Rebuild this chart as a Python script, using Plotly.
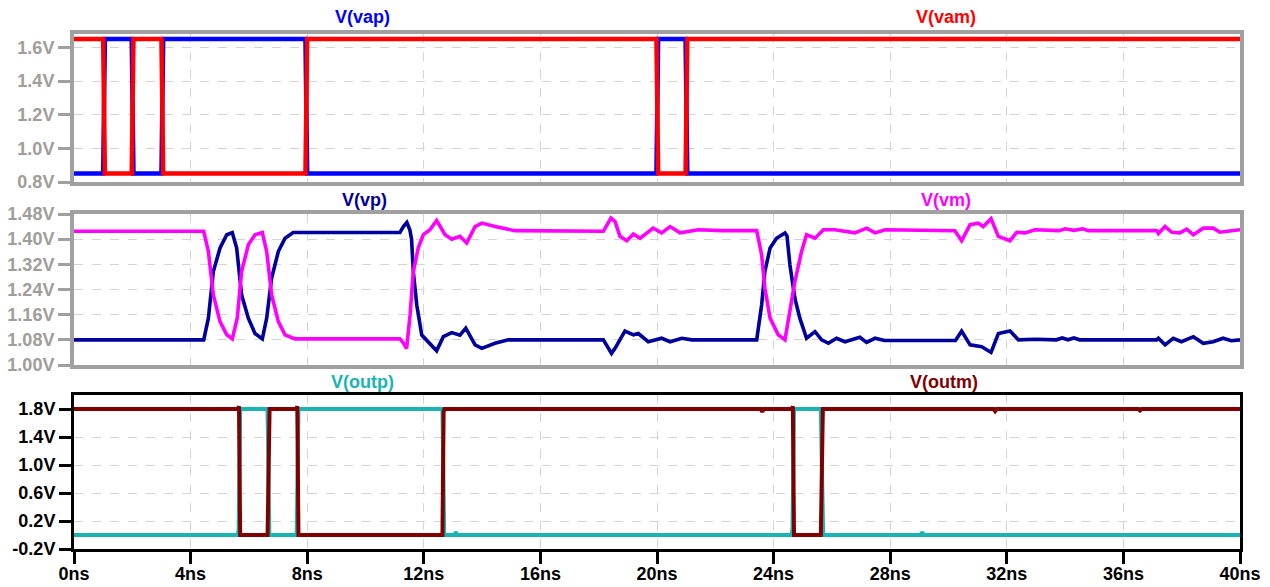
import plotly.graph_objects as go

# ---------------- data ----------------
# top panel: input drives
vap_t = [0, 1.00, 1.06, 1.98, 2.04, 3.00, 3.06, 7.94, 8.00, 19.98, 20.04, 20.98, 21.04, 40]
vap_v = [0.85, 0.85, 1.65, 1.65, 0.85, 0.85, 1.65, 1.65, 0.85, 0.85, 1.65, 1.65, 0.85, 0.85]
vam_t = [0, 1.00, 1.06, 1.98, 2.04, 3.00, 3.06, 7.94, 8.00, 19.98, 20.04, 20.98, 21.04, 40]
vam_v = [1.65, 1.65, 0.85, 0.85, 1.65, 1.65, 0.85, 0.85, 1.65, 1.65, 0.85, 0.85, 1.65, 1.65]

# middle panel: internal nodes
vp_t = [0, 4.45, 4.61, 4.78, 5.01, 5.24, 5.43, 5.58, 5.75, 5.98, 6.21, 6.46, 6.61, 6.78, 7.01,
        7.24, 7.52, 11.18, 11.30, 11.42, 11.52, 11.58, 11.64, 11.76, 11.93, 12.16, 12.44, 12.67,
        12.96, 13.24, 13.44, 13.76, 13.99, 14.44, 14.90, 18.16, 18.44, 18.56, 18.90, 19.19, 19.36,
        19.70, 20.16, 20.45, 20.85, 21.20, 23.42, 23.59, 23.70, 23.88, 24.10, 24.39, 24.46, 24.56,
        24.73, 24.90, 25.13, 25.42, 25.65, 25.88, 26.16, 26.45, 26.96, 27.19, 27.48, 27.80, 30.24,
        30.45, 30.74, 31.14, 31.46, 31.71, 32.11, 32.40, 32.97, 33.70, 33.90, 34.10, 34.30, 34.50,
        37.14, 37.20, 37.43, 37.71, 37.99, 38.40, 38.74, 39.08, 39.42, 39.70, 40]
vp_v = [1.080, 1.080, 1.149, 1.297, 1.372, 1.414, 1.421, 1.372, 1.223, 1.149, 1.100, 1.083, 1.149,
        1.276, 1.361, 1.403, 1.421, 1.421, 1.440, 1.453, 1.430, 1.400, 1.297, 1.190, 1.095, 1.074,
        1.045, 1.090, 1.103, 1.095, 1.117, 1.064, 1.053, 1.069, 1.080, 1.080, 1.037, 1.053, 1.108,
        1.096, 1.100, 1.074, 1.085, 1.074, 1.085, 1.080, 1.080, 1.191, 1.297, 1.372, 1.403, 1.420,
        1.410, 1.318, 1.212, 1.149, 1.085, 1.106, 1.080, 1.069, 1.085, 1.074, 1.088, 1.072, 1.085,
        1.078, 1.078, 1.108, 1.064, 1.058, 1.040, 1.100, 1.108, 1.080, 1.082, 1.080, 1.086, 1.080,
        1.086, 1.080, 1.080, 1.085, 1.064, 1.085, 1.074, 1.090, 1.069, 1.074, 1.085, 1.077, 1.080]

vm_t = [0, 4.45, 4.61, 4.78, 5.01, 5.24, 5.43, 5.60, 5.75, 5.98, 6.21, 6.46, 6.61, 6.78, 7.01,
        7.24, 7.58, 11.18, 11.30, 11.41, 11.53, 11.64, 11.81, 11.98, 12.21, 12.44, 12.73, 12.96,
        13.24, 13.47, 13.76, 13.99, 14.44, 15.13, 18.16, 18.42, 18.56, 18.73, 18.96, 19.19, 19.42,
        19.87, 20.16, 20.45, 20.79, 21.42, 22.22, 23.42, 23.59, 23.70, 23.88, 24.16, 24.39, 24.56,
        24.73, 24.96, 25.13, 25.42, 25.71, 26.10, 26.79, 27.19, 27.48, 27.82, 30.22, 30.45, 30.74,
        31.02, 31.19, 31.46, 31.71, 32.11, 32.34, 32.62, 32.97, 33.80, 34.00, 34.30, 34.60, 34.80,
        37.14, 37.20, 37.43, 37.66, 37.94, 38.17, 38.40, 38.74, 39.08, 39.31, 39.70, 40]
vm_v = [1.425, 1.425, 1.361, 1.223, 1.138, 1.096, 1.083, 1.149, 1.297, 1.382, 1.414, 1.421, 1.361,
        1.223, 1.138, 1.096, 1.083, 1.083, 1.070, 1.052, 1.160, 1.297, 1.372, 1.414, 1.430, 1.459,
        1.414, 1.400, 1.409, 1.388, 1.440, 1.451, 1.440, 1.427, 1.425, 1.467, 1.456, 1.409, 1.395,
        1.416, 1.403, 1.435, 1.420, 1.440, 1.420, 1.430, 1.427, 1.427, 1.350, 1.244, 1.149, 1.096,
        1.080, 1.170, 1.265, 1.361, 1.414, 1.403, 1.430, 1.430, 1.420, 1.435, 1.420, 1.430, 1.427,
        1.395, 1.446, 1.451, 1.440, 1.465, 1.409, 1.395, 1.422, 1.420, 1.430, 1.427, 1.433, 1.428,
        1.433, 1.427, 1.427, 1.418, 1.440, 1.422, 1.420, 1.432, 1.414, 1.435, 1.435, 1.422, 1.425,
        1.430]

# bottom panel: outputs
outp_t = [0, 5.62, 5.65, 5.70, 6.64, 6.70, 7.64, 7.70, 12.64, 12.70, 13.05, 13.10, 13.15,
          24.62, 24.65, 24.70, 25.62, 25.70, 29.05, 29.10, 29.15, 40]
outp_v = [0.0, 0.0, 0.08, 1.80, 1.80, 0.0, 0.0, 1.80, 1.80, 0.0, 0.0, 0.04, 0.0,
          0.0, 0.10, 1.80, 1.80, 0.0, 0.0, 0.04, 0.0, 0.0]
outm_t = [0, 5.63, 5.66, 5.70, 6.64, 6.68, 6.71, 7.63, 7.66, 7.70, 12.64, 12.68, 12.71,
          23.56, 23.61, 23.66, 24.63, 24.66, 24.70, 25.62, 25.66, 25.69, 31.55, 31.60, 31.65,
          36.52, 36.57, 36.62, 40]
outm_v = [1.80, 1.80, 1.84, 0.0, 0.0, 1.70, 1.80, 1.80, 1.84, 0.0, 0.0, 1.76, 1.80,
          1.80, 1.76, 1.80, 1.80, 1.84, 0.0, 0.0, 1.76, 1.80, 1.80, 1.77, 1.80,
          1.80, 1.78, 1.80, 1.80]

# ticks
x_ticks = [0, 4, 8, 12, 16, 20, 24, 28, 32, 36, 40]
x_labels = ["0ns", "4ns", "8ns", "12ns", "16ns", "20ns", "24ns", "28ns", "32ns", "36ns", "40ns"]
y1_ticks = [0.8, 1.0, 1.2, 1.4, 1.6]
y1_labels = ["0.8V", "1.0V", "1.2V", "1.4V", "1.6V"]
y2_ticks = [1.00, 1.08, 1.16, 1.24, 1.32, 1.40, 1.48]
y2_labels = ["1.00V", "1.08V", "1.16V", "1.24V", "1.32V", "1.40V", "1.48V"]
y3_ticks = [-0.2, 0.2, 0.6, 1.0, 1.4, 1.8]
y3_labels = ["-0.2V", "0.2V", "0.6V", "1.0V", "1.4V", "1.8V"]

# ---------------- figure ----------------
# the page body adds an 8px offset, so the figure is 8px smaller and margins compensate
OFF = 8
W, H = 1270 - OFF, 587 - OFF
ML, MR, MT, MB = 74 - OFF, 30, 34 - OFF, 38
PX0, PX1 = 74, 1240      # absolute pixel extents of the plot area
PY0, PY1 = 34, 549


def py(y):  # absolute pixel y -> paper y
    return (PY1 - y) / (PY1 - PY0)


def px(x):
    return (x - PX0) / (PX1 - PX0)


FONT = "Liberation Sans, Arial, sans-serif"
GRAY = "#a0a0a0"
TICKGRAY = "#a19d98"
GRID = "#d4d4d4"

fig = go.Figure()
fig.add_trace(go.Scatter(x=vap_t, y=vap_v, mode="lines", line=dict(color="#0000ff", width=4.5),
                         xaxis="x", yaxis="y", name="V(vap)"))
fig.add_trace(go.Scatter(x=vam_t, y=vam_v, mode="lines", line=dict(color="#ff0000", width=4.5),
                         xaxis="x", yaxis="y", name="V(vam)"))
fig.add_trace(go.Scatter(x=vp_t, y=vp_v, mode="lines", line=dict(color="#00009c", width=3.6),
                         xaxis="x2", yaxis="y2", name="V(vp)"))
fig.add_trace(go.Scatter(x=vm_t, y=vm_v, mode="lines", line=dict(color="#ff00ff", width=3.6),
                         xaxis="x2", yaxis="y2", name="V(vm)"))
fig.add_trace(go.Scatter(x=outp_t, y=outp_v, mode="lines", line=dict(color="#1ab4b4", width=4),
                         xaxis="x3", yaxis="y3", name="V(outp)"))
fig.add_trace(go.Scatter(x=outm_t, y=outm_v, mode="lines", line=dict(color="#800000", width=4),
                         xaxis="x3", yaxis="y3", name="V(outm)"))

xcommon = dict(range=[0, 40], tickvals=x_ticks, showgrid=True, gridcolor=GRID, griddash="dash",
               gridwidth=1, zeroline=False, showline=True, mirror=True, automargin=False)
ycommon = dict(showgrid=True, gridcolor=GRID, griddash="dash", gridwidth=1, zeroline=False,
               showline=True, mirror=True, ticks="outside", ticklen=12, automargin=False)

dom1 = [py(182), 1.0]
dom2 = [py(365), py(214)]
dom3 = [0.0, py(395)]

fig.update_layout(
    template="none",
    width=W, height=H,
    margin=dict(l=ML, r=MR, t=MT, b=MB, autoexpand=False),
    plot_bgcolor="white", paper_bgcolor="white",
    showlegend=False,
    xaxis=dict(**xcommon, domain=[0, 1], anchor="y", showticklabels=False, ticks="",
               linecolor=GRAY, linewidth=4),
    xaxis2=dict(**xcommon, domain=[0, 1], anchor="y2", matches="x", showticklabels=False, ticks="",
                linecolor=GRAY, linewidth=4),
    xaxis3=dict(**xcommon, domain=[0, 1], anchor="y3", matches="x", ticktext=x_labels,
                ticks="outside", ticklen=12, tickwidth=3, tickcolor="black",
                ticklabelstandoff=-6,
                linecolor="black", linewidth=3,
                tickfont=dict(family=FONT, size=18, color="black", weight="bold")),
    yaxis=dict(**ycommon, domain=dom1, anchor="x", range=[0.8, 1.68], tickvals=y1_ticks,
               ticktext=y1_labels, tickwidth=3, tickcolor=GRAY, linecolor=GRAY, linewidth=4,
               tickfont=dict(family=FONT, size=18, color=TICKGRAY, weight="bold")),
    yaxis2=dict(**ycommon, domain=dom2, anchor="x2", range=[1.0, 1.48], tickvals=y2_ticks,
                ticktext=y2_labels, tickwidth=3, tickcolor=GRAY, linecolor=GRAY, linewidth=4,
                tickfont=dict(family=FONT, size=18, color=TICKGRAY, weight="bold")),
    yaxis3=dict(**ycommon, domain=dom3, anchor="x3", range=[-0.2, 2.0], tickvals=y3_ticks,
                ticktext=y3_labels, tickwidth=3, tickcolor="black", linecolor="black", linewidth=3,
                tickfont=dict(family=FONT, size=18, color="black", weight="bold")),
)

titles = [
    ("V(vap)", "#0000ff", 362, 17),
    ("V(vam)", "#ff0000", 946, 17),
    ("V(vp)", "#00009c", 364, 200),
    ("V(vm)", "#ff00ff", 946, 200),
    ("V(outp)", "#1ab4b4", 362, 382),
    ("V(outm)", "#800000", 944, 382),
]
for text, color, x, y in titles:
    fig.add_annotation(text=text, x=px(x), y=py(y), xref="paper", yref="paper",
                       showarrow=False, xanchor="center", yanchor="middle",
                       font=dict(family=FONT, size=18, color=color, weight="bold"))

fig.write_html("out.html")
